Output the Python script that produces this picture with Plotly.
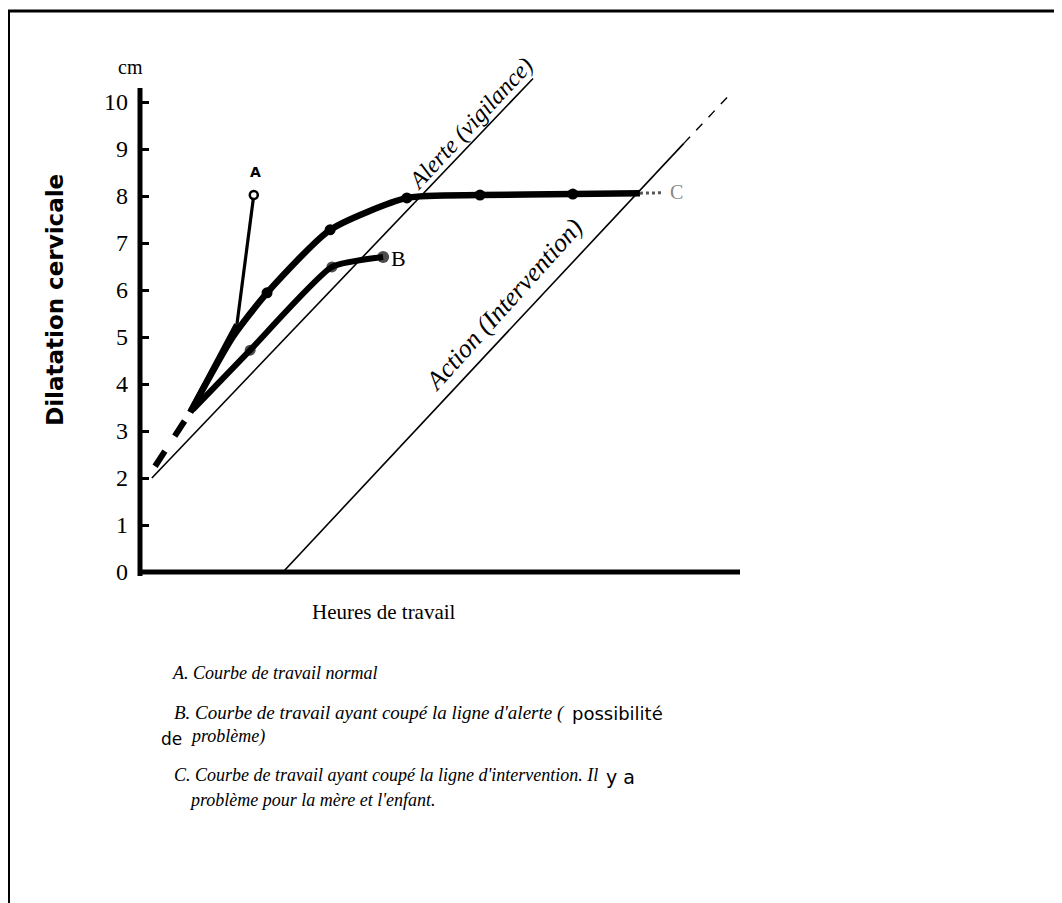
import plotly.graph_objects as go

# ---- data (hours of labour, cervical dilatation in cm) ----
start_hours = [0.33, 1.1]
start_cm = [2.25, 3.4]

curve_a_hours = [1.1, 2.12, 2.49]
curve_a_cm = [3.4, 5.26, 8.02]

curve_b_hours = [1.15, 2.41, 4.2, 5.32]
curve_b_cm = [3.45, 4.72, 6.49, 6.70]

curve_c_hours = [1.1, 2.03, 2.78, 4.16, 5.84, 7.44, 9.47, 10.94]
curve_c_cm = [3.4, 5.0, 5.94, 7.28, 7.96, 8.02, 8.04, 8.06]
curve_c_tail_hours = [10.94, 11.45]
curve_c_tail_cm = [8.06, 8.07]

alert_hours = [0.26, 8.6]
alert_cm = [2.0, 10.5]
action_hours = [3.13, 11.9]
action_cm = [0.0, 9.12]
action_ext_hours = [11.9, 12.85]
action_ext_cm = [9.12, 10.1]

y_ticks = list(range(0, 11))

# ---- layout constants ----
W, H = 1062, 903
L, R, T, B = 132, 330, 66, 339
PW, PH = W - L - R, H - T - B
X_MAX = PW / 45.7
Y_MAX = PH / 47.0

SERIF = "Liberation Serif"
black = "black"

fig = go.Figure()

# Alert & action lines
fig.add_trace(go.Scatter(x=alert_hours, y=alert_cm, mode="lines",
                         line=dict(color=black, width=1.6), hoverinfo="skip"))
fig.add_trace(go.Scatter(x=action_hours, y=action_cm, mode="lines",
                         line=dict(color=black, width=1.6), hoverinfo="skip"))
fig.add_trace(go.Scatter(x=action_ext_hours, y=action_ext_cm, mode="lines",
                         line=dict(color=black, width=1.4, dash="dash"), hoverinfo="skip"))

# common start (dashed)
fig.add_trace(go.Scatter(x=start_hours, y=start_cm, mode="lines",
                         line=dict(color=black, width=6, dash="dash"), hoverinfo="skip"))

# Curve C
fig.add_trace(go.Scatter(x=curve_c_hours, y=curve_c_cm, mode="lines",
                         line=dict(color=black, width=6.5, shape="spline", smoothing=0.6),
                         hoverinfo="skip", cliponaxis=False))
fig.add_trace(go.Scatter(x=curve_c_hours[2:7], y=curve_c_cm[2:7], mode="markers",
                         marker=dict(color=black, size=11), hoverinfo="skip", cliponaxis=False))
fig.add_trace(go.Scatter(x=curve_c_tail_hours, y=curve_c_tail_cm, mode="lines",
                         line=dict(color="#555", width=3, dash="dot"), hoverinfo="skip"))

# Curve A
fig.add_trace(go.Scatter(x=curve_a_hours[:2], y=curve_a_cm[:2], mode="lines",
                         line=dict(color=black, width=6), hoverinfo="skip"))
fig.add_trace(go.Scatter(x=curve_a_hours[1:], y=curve_a_cm[1:], mode="lines",
                         line=dict(color=black, width=3.2), hoverinfo="skip"))
fig.add_trace(go.Scatter(x=curve_a_hours[2:], y=curve_a_cm[2:], mode="markers",
                         marker=dict(color="white", size=8, line=dict(color=black, width=2.5)),
                         hoverinfo="skip", cliponaxis=False))

# Curve B
fig.add_trace(go.Scatter(x=curve_b_hours, y=curve_b_cm, mode="lines",
                         line=dict(color=black, width=6, shape="spline", smoothing=0.5),
                         hoverinfo="skip"))
fig.add_trace(go.Scatter(x=curve_b_hours[1:], y=curve_b_cm[1:], mode="markers",
                         marker=dict(color=black, size=[11, 11, 12], line=dict(width=0)),
                         hoverinfo="skip", cliponaxis=False))


def ann(x, y, text, size, family=SERIF, angle=0, color=black, xanchor="center",
        italic=False, bold=False):
    """x in hours, y in cm, placed in paper space so off-axis texts still show."""
    t = text
    if italic:
        t = "<i>" + t + "</i>"
    if bold:
        t = "<b>" + t + "</b>"
    fig.add_annotation(x=x / X_MAX, y=y / Y_MAX, xref="paper", yref="paper", text=t,
                       showarrow=False, textangle=angle, xanchor=xanchor, yanchor="middle",
                       font=dict(family=family, size=size, color=color))


# line labels
ann(7.24, 9.55, "Alerte (vigilance)", 24, angle=-47, italic=True)
ann(7.96, 5.70, "Action (Intervention)", 26, angle=-48, italic=True)
ann(2.52, 8.51, "A", 14, family="DejaVu Sans", bold=True)
ann(5.66, 6.68, "B", 22)
ann(11.75, 8.08, "C", 20, color="#888")

# axis texts
ann(-0.2, 10.75, "cm", 20)
ann(5.33, -0.85, "Heures de travail", 21)
ann(-1.86, 5.79, "Dilatation cervicale", 23, family="DejaVu Sans", angle=-90, bold=True)

# legend texts
ann(0.66, -2.15, "A. Courbe de travail normal", 18, xanchor="left", italic=True)
ann(0.70, -3.0, "B. Courbe de travail ayant coupé la ligne d'alerte (", 19,
    xanchor="left", italic=True)
ann(9.42, -3.0, "possibilité", 18, family="DejaVu Sans", xanchor="left")
ann(0.42, -3.55, "de", 17, family="DejaVu Sans", xanchor="left")
ann(1.05, -3.51, "problème)", 18, xanchor="left", italic=True)
ann(0.70, -4.32, "C. Courbe de travail ayant coupé la ligne d'intervention. Il", 18,
    xanchor="left", italic=True)
ann(10.15, -4.36, "y a", 19, family="DejaVu Sans", xanchor="left")
ann(1.03, -4.85, "problème pour la mère et l'enfant.", 18, xanchor="left", italic=True)

shapes = [
    # y axis line
    dict(type="line", xref="paper", yref="paper", x0=0, x1=0,
         y0=-4 / PH, y1=10.3 / Y_MAX, line=dict(color=black, width=5)),
    # x axis line
    dict(type="line", xref="paper", yref="paper", x0=0, x1=1,
         y0=0, y1=0, line=dict(color=black, width=5)),
    # frame
    dict(type="rect", xref="paper", yref="paper",
         x0=-(L - 0.5) / PW, x1=1 + R / PW, y0=-B / PH, y1=1 + (T - 3) / PH,
         line=dict(color=black, width=3)),
]

fig.update_layout(
    width=W, height=H, autosize=False,
    margin=dict(l=L, r=R, t=T, b=B),
    paper_bgcolor="white", plot_bgcolor="white",
    showlegend=False,
    shapes=shapes,
    xaxis=dict(range=[0, X_MAX], showticklabels=False, ticks="", showgrid=False,
               zeroline=False, showline=False, fixedrange=True),
    yaxis=dict(range=[0, Y_MAX], tickvals=y_ticks, ticktext=[str(v) for v in y_ticks],
               ticks="inside", ticklen=9, tickwidth=2.5, tickcolor=black,
               tickfont=dict(family=SERIF, size=24, color=black),
               ticklabelstandoff=11,
               showgrid=False, zeroline=False, showline=False, fixedrange=True),
)

fig.write_html("out.html")
